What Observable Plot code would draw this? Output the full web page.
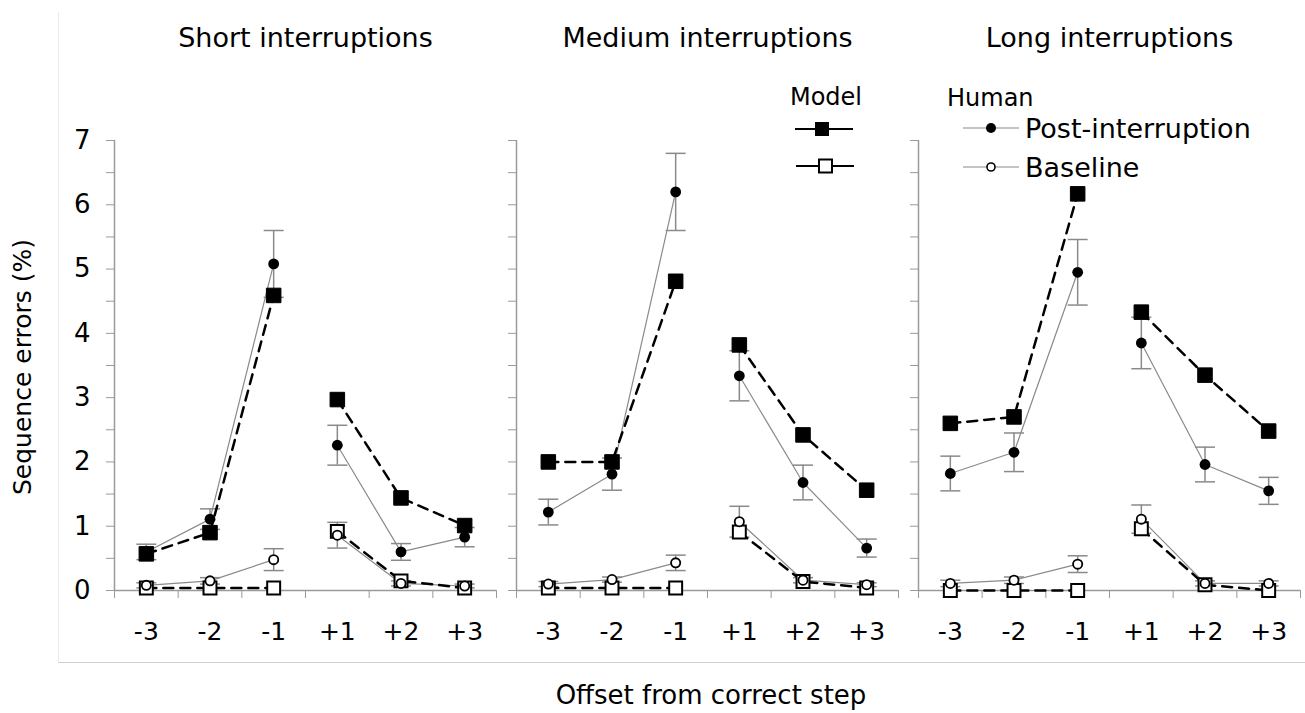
<!DOCTYPE html>
<html><head><meta charset="utf-8">
<script src="https://cdn.jsdelivr.net/npm/d3@7"></script>
<script src="https://cdn.jsdelivr.net/npm/@observablehq/plot@0.6"></script>
<style>
body{margin:0;background:#fff;font-family:"DejaVu Sans",Verdana,sans-serif;}
#wrap{position:relative;width:1305px;height:713px;overflow:hidden;background:#fff;}
#frame{position:absolute;left:58px;top:12px;width:1270px;height:650px;border-left:1px solid #e9e9e9;border-bottom:1px solid #cfcfcf;}
#chart{position:absolute;left:0;top:0;}
#overlay{position:absolute;left:0;top:0;pointer-events:none;}
</style></head><body>
<div id="wrap"><div id="frame"></div><div id="chart"></div><svg id="overlay" width="1305" height="713"></svg></div>
<script>
// ---- data ----
const panels = ["Short interruptions", "Medium interruptions", "Long interruptions"];
const offsets = ["-3", "-2", "-1", "+1", "+2", "+3"];
const yTicks = [0, 1, 2, 3, 4, 5, 6, 7];
const yMinorTicks = [0, 0.5, 1, 1.5, 2, 2.5, 3, 3.5, 4, 4.5, 5, 5.5, 6, 6.5, 7];

// per panel (short, medium, long), per offset
const humanPost = [
  [0.60, 1.11, 5.08, 2.26, 0.60, 0.83],
  [1.22, 1.81, 6.20, 3.34, 1.68, 0.66],
  [1.82, 2.15, 4.95, 3.85, 1.96, 1.55]
];
const humanPostErr = [
  [0.12, 0.16, 0.52, 0.31, 0.13, 0.15],
  [0.20, 0.25, 0.60, 0.39, 0.27, 0.14],
  [0.27, 0.30, 0.51, 0.40, 0.27, 0.21]
];
const humanBase = [
  [0.08, 0.15, 0.48, 0.86, 0.11, 0.07],
  [0.10, 0.17, 0.43, 1.07, 0.16, 0.09],
  [0.11, 0.16, 0.41, 1.11, 0.11, 0.11]
];
const humanBaseErr = [
  [0.04, 0.05, 0.17, 0.20, 0.04, 0.03],
  [0.04, 0.04, 0.12, 0.24, 0.04, 0.03],
  [0.05, 0.05, 0.13, 0.22, 0.04, 0.04]
];
const modelPost = [
  [0.57, 0.90, 4.59, 2.97, 1.44, 1.01],
  [2.00, 2.00, 4.81, 3.82, 2.42, 1.56],
  [2.60, 2.70, 6.17, 4.33, 3.35, 2.48]
];
const modelBase = [
  [0.04, 0.04, 0.04, 0.92, 0.15, 0.04],
  [0.04, 0.04, 0.04, 0.91, 0.14, 0.04],
  [0.00, 0.00, 0.00, 0.96, 0.09, 0.00]
];

// ---- build table ----
function rowsOf(series, values, errs) {
  const out = [];
  panels.forEach((panel, p) => {
    offsets.forEach((off, i) => {
      out.push({panel, offset: off, x: i + 0.5, seg: series + (i < 3 ? "-pre" : "-post"),
                value: values[p][i], err: errs ? errs[p][i] : 0});
    });
  });
  return out;
}
const hPost = rowsOf("hpost", humanPost, humanPostErr);
const hBase = rowsOf("hbase", humanBase, humanBaseErr);
const mPost = rowsOf("mpost", modelPost);
const mBase = rowsOf("mbase", modelBase);
const humanRows = hPost.concat(hBase);
const modelRows = mPost.concat(mBase);

const cap = {draw(ctx, size) { const w = Math.sqrt(size / Math.PI); ctx.moveTo(-w, 0); ctx.lineTo(w, 0); }};
const axisGray = "#9a9a9a";
const humanGray = "#8a8a8a";

const chart = Plot.plot({
  width: 1305, height: 713,
  marginLeft: 113, marginRight: 5, marginTop: 140, marginBottom: 123,
  style: {fontFamily: "'DejaVu Sans', Verdana, sans-serif", background: "transparent", color: "#000", overflow: "visible"},
  facet: {marginTop: 0, marginBottom: 0, marginLeft: 0, marginRight: 0},
  fx: {domain: panels, paddingInner: 0.05, paddingOuter: 0, label: null},
  x: {domain: [0, 6]},
  y: {domain: [0, 7]},
  marks: [
    Plot.ruleY([0], {stroke: axisGray, strokeWidth: 1.5}),
    Plot.ruleX([0], {stroke: axisGray, strokeWidth: 1.5}),
    Plot.axisX([0, 1, 2, 3, 4, 5, 6], {tickSize: 8, tickFormat: () => "", stroke: axisGray, label: null}),
    Plot.axisX(offsets.map((o, i) => i + 0.5), {tickSize: 0, tickPadding: 32, tickFormat: (d) => offsets[Math.floor(d)], fontSize: 25, label: null}),
    Plot.axisY(yMinorTicks, {tickSize: 8, tickFormat: () => "", stroke: axisGray, label: null, facetAnchor: null}),
    Plot.axisY(yTicks, {tickSize: 0, tickPadding: 24, fontSize: 26, tickFormat: "d", label: null}),
    Plot.axisFx({anchor: "top", tickSize: 0, tickPadding: 94, fontSize: 27, label: null}),
    // human lines
    Plot.line(humanRows, {x: "x", y: "value", z: "seg", fx: "panel", stroke: humanGray, strokeWidth: 1.2}),
    // error bars
    Plot.ruleX(humanRows, {x: "x", y1: d => d.value - d.err, y2: d => d.value + d.err, fx: "panel", stroke: humanGray, strokeWidth: 1.5}),
    Plot.dot(humanRows, {x: "x", y: d => d.value + d.err, fx: "panel", symbol: cap, r: 10, stroke: humanGray, strokeWidth: 1.5}),
    Plot.dot(humanRows, {x: "x", y: d => d.value - d.err, fx: "panel", symbol: cap, r: 10, stroke: humanGray, strokeWidth: 1.5}),
    // model dashed lines
    Plot.line(modelRows, {x: "x", y: "value", z: "seg", fx: "panel", stroke: "#000", strokeWidth: 2.5, strokeDasharray: "10,7"}),
    // model symbols
    Plot.dot(mBase, {x: "x", y: "value", fx: "panel", symbol: "square", r: 7.3, fill: "#fff", stroke: "#000", strokeWidth: 2}),
    Plot.dot(mPost, {x: "x", y: "value", fx: "panel", symbol: "square", r: 8.2, fill: "#000", stroke: "#000", strokeWidth: 1}),
    // human symbols
    Plot.dot(hBase, {x: "x", y: "value", fx: "panel", r: 4.6, fill: "#fff", stroke: "#000", strokeWidth: 1.8}),
    Plot.dot(hPost, {x: "x", y: "value", fx: "panel", r: 5.4, fill: "#000", stroke: "none"})
  ]
});
document.getElementById("chart").appendChild(chart);

// ---- overlay: titles & legend ----
const ov = d3.select("#overlay");
const ff = "'DejaVu Sans', Verdana, sans-serif";
ov.append("text").attr("transform", "translate(31,367) rotate(-90)").attr("text-anchor", "middle")
  .attr("font-family", ff).attr("font-size", 25).text("Sequence errors (%)");
ov.append("text").attr("x", 711).attr("y", 704).attr("text-anchor", "middle")
  .attr("font-family", ff).attr("font-size", 26).text("Offset from correct step");

// Model legend
ov.append("text").attr("x", 826).attr("y", 105).attr("text-anchor", "middle")
  .attr("font-family", ff).attr("font-size", 24).text("Model");
ov.append("line").attr("x1", 795).attr("x2", 853).attr("y1", 129).attr("y2", 129).attr("stroke", "#000").attr("stroke-width", 2.2);
ov.append("rect").attr("x", 815).attr("y", 122).attr("width", 14).attr("height", 14).attr("fill", "#000");
ov.append("line").attr("x1", 796).attr("x2", 854).attr("y1", 166).attr("y2", 166).attr("stroke", "#000").attr("stroke-width", 2.2);
ov.append("rect").attr("x", 819).attr("y", 159.5).attr("width", 13).attr("height", 13).attr("fill", "#fff").attr("stroke", "#000").attr("stroke-width", 2);

// Human legend
ov.append("text").attr("x", 947).attr("y", 106)
  .attr("font-family", ff).attr("font-size", 24).text("Human");
ov.append("line").attr("x1", 963).attr("x2", 1019).attr("y1", 128).attr("y2", 128).attr("stroke", humanGray).attr("stroke-width", 1.2);
ov.append("circle").attr("cx", 991).attr("cy", 128).attr("r", 5).attr("fill", "#000");
ov.append("text").attr("x", 1025).attr("y", 138)
  .attr("font-family", ff).attr("font-size", 27).text("Post-interruption");
ov.append("line").attr("x1", 963).attr("x2", 1019).attr("y1", 167).attr("y2", 167).attr("stroke", humanGray).attr("stroke-width", 1.2);
ov.append("circle").attr("cx", 991).attr("cy", 167).attr("r", 4).attr("fill", "#fff").attr("stroke", "#000").attr("stroke-width", 1.6);
ov.append("text").attr("x", 1025).attr("y", 177)
  .attr("font-family", ff).attr("font-size", 27).text("Baseline");
</script>
</body></html>
